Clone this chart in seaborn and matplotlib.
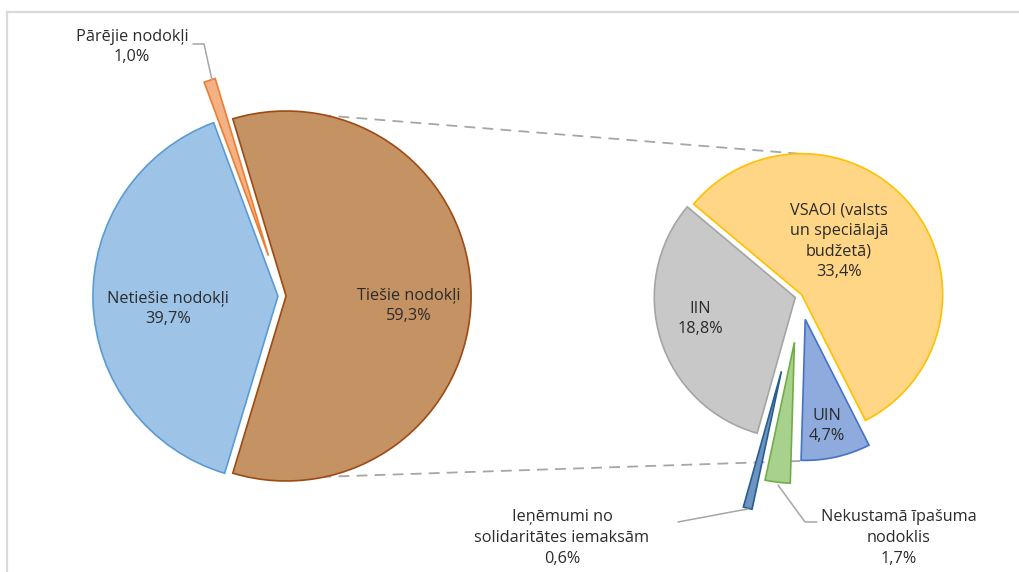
import numpy as np
import matplotlib
matplotlib.use("Agg")
import matplotlib.pyplot as plt
import seaborn as sns

sns.set_theme(style="white")
plt.rcParams['font.family'] = ['Open Sans', 'DejaVu Sans']

# Tax revenue structure (share of total, %)
main_labels = ["Tiešie nodokļi", "Netiešie nodokļi", "Pārējie nodokļi"]
main_values = [59.3, 39.7, 1.0]

# Breakdown of direct taxes (share of total, %)
sub_labels = ["VSAOI (valsts\nun speciālajā\nbudžetā)", "UIN",
              "Nekustamā īpašuma\nnodoklis",
              "Ieņēmumi no\nsolidaritātes iemaksām", "IIN"]
sub_values = [33.4, 4.7, 1.7, 0.6, 18.8]

# Styling (explode given as a fraction of the pie radius)
main_fill = ["#C59263", "#9DC3E6", "#F4B183"]
main_edge = ["#9E4A12", "#5B9BD5", "#ED7D31"]
main_explode = [0.022, 0.022, 0.23]

sub_fill = ["#FFD685", "#8FAADC", "#A9D18E", "#6F93C0", "#C8C8C8"]
sub_edge = ["#FFC000", "#4472C4", "#70AD47", "#255E91", "#A5A5A5"]
sub_explode = [0.015, 0.17, 0.33, 0.55, 0.035]

TEXT = "#2B2B2B"
W, H = 1019, 572


def sy(y):
    """Convert a top-down pixel row to the axes' upward y."""
    return H - y


def fmt(v):
    return f"{v:.1f}".replace(".", ",") + "%"


fig = plt.figure(figsize=(W / 100, H / 100), dpi=100)
ax = fig.add_axes([0, 0, 1, 1])

# Left pie: split segment centred towards the breakdown pie
left_c = (282, sy(296))
left_r = 185
start_left = 360 * main_values[0] / sum(main_values) / 2
wl, _ = ax.pie(main_values, colors=main_fill,
               explode=[e * left_r for e in main_explode],
               startangle=start_left, counterclock=False,
               center=left_c, radius=left_r, frame=True)
for w, ec in zip(wl, main_edge):
    w.set_edgecolor(ec)
    w.set_linewidth(1.2)

# Right pie: breakdown of direct taxes
right_c = (800, sy(296))
right_r = 141
wr, _ = ax.pie(sub_values, colors=sub_fill,
               explode=[e * right_r for e in sub_explode],
               startangle=140, counterclock=False,
               center=right_c, radius=right_r, frame=True)
for w, ec in zip(wr, sub_edge):
    w.set_edgecolor(ec)
    w.set_linewidth(1.2)

# Connector lines between the two pies
def polar(c, r, ang):
    a = np.deg2rad(ang)
    return c[0] + r * np.cos(a), c[1] + r * np.sin(a)

p1 = polar(left_c, left_r, 78)
p2 = polar(right_c, right_r + 1, 82)
p3 = polar(left_c, left_r, -78)
p4 = polar(right_c, right_r + 24, -90)
for a, b in [(p1, p2), (p3, p4)]:
    ax.plot([a[0], b[0]], [a[1], b[1]], color="#A6A6A6", lw=1.3,
            dashes=(6, 4), zorder=0)

fs = 11.7
ls = 1.38
# Labels inside slices
ax.text(168, sy(309), f"{main_labels[1]}\n{fmt(main_values[1])}", ha="center",
        va="center", fontsize=fs, color=TEXT, linespacing=ls)
ax.text(409, sy(306), f"{main_labels[0]}\n{fmt(main_values[0])}", ha="center",
        va="center", fontsize=fs, color=TEXT, linespacing=ls)
ax.text(839, sy(241), f"{sub_labels[0]}\n{fmt(sub_values[0])}", ha="center",
        va="center", fontsize=fs, color=TEXT, linespacing=ls)
ax.text(700, sy(319), f"{sub_labels[4]}\n{fmt(sub_values[4])}", ha="center",
        va="center", fontsize=fs, color=TEXT, linespacing=ls)
ax.text(827, sy(426), f"{sub_labels[1]}\n{fmt(sub_values[1])}", ha="center",
        va="center", fontsize=fs, color=TEXT, linespacing=ls)

# Outside labels with leader lines
ax.text(132, sy(47), f"{main_labels[2]}\n{fmt(main_values[2])}", ha="center",
        va="center", fontsize=fs, color=TEXT, linespacing=ls)
ax.plot([193, 204, 212], [sy(44), sy(44), sy(80)], color="#A6A6A6", lw=1.1)

ax.text(562, sy(538), f"{sub_labels[3]}\n{fmt(sub_values[3])}", ha="center",
        va="center", fontsize=fs, color=TEXT, linespacing=ls)
ax.plot([678, 742, 748], [sy(522), sy(510), sy(509)], color="#A6A6A6", lw=1.1)

ax.text(899, sy(538), f"{sub_labels[2]}\n{fmt(sub_values[2])}", ha="center",
        va="center", fontsize=fs, color=TEXT, linespacing=ls)
ax.plot([817, 805, 778], [sy(522), sy(522), sy(485)], color="#A6A6A6", lw=1.1)

# Chart area border
ax.plot([7.5, W], [sy(11.5), sy(11.5)], color="#D9D9D9", lw=1.6,
        solid_capstyle="projecting")
ax.plot([7.5, 7.5], [sy(11.5), 0], color="#D9D9D9", lw=1.6,
        solid_capstyle="projecting")

ax.set_xlim(0, W)
ax.set_ylim(0, H)
ax.set_aspect("equal")
ax.set_axis_off()

fig.savefig("out.png", dpi=100, facecolor="white")
